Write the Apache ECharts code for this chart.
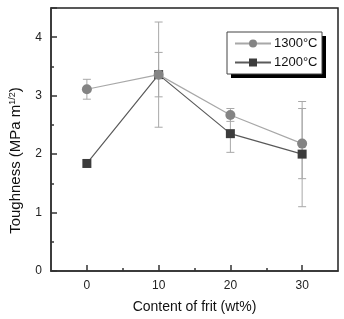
<!DOCTYPE html>
<html><head><meta charset="utf-8">
<script src="https://cdn.jsdelivr.net/npm/echarts@6/dist/echarts.min.js"></script>
<style>html,body{margin:0;padding:0;background:#fff}#c{width:344px;height:319px}</style>
</head><body><div id="c"></div>
<script>
var fritContent = [0, 10, 20, 30];
var tough1300 = [3.11, 3.36, 2.67, 2.18];
var err1300 = [0.17, 0.38, 0.11, 0.6];
var tough1200 = [1.84, 3.36, 2.35, 2.0];
var err1200 = [0.06, 0.9, 0.32, 0.9];
var xTicks = [0, 10, 20, 30];
var xMinorTicks = [5, 15, 25];

function pairs(xs, ys){ return xs.map(function(x,i){return [x, ys[i]];}); }
function errData(xs, ys, es){ return xs.map(function(x,i){return [x, ys[i]-es[i], ys[i]+es[i]];}); }

function errRender(params, api){
  var x = api.value(0);
  var lo = api.coord([x, api.value(1)]);
  var hi = api.coord([x, api.value(2)]);
  var w = 4;
  var st = {stroke:'#a8a8a8', lineWidth:1};
  return {type:'group', children:[
    {type:'line', shape:{x1:lo[0],y1:lo[1],x2:hi[0],y2:hi[1]}, style:st},
    {type:'line', shape:{x1:lo[0]-w,y1:lo[1],x2:lo[0]+w,y2:lo[1]}, style:st},
    {type:'line', shape:{x1:hi[0]-w,y1:hi[1],x2:hi[0]+w,y2:hi[1]}, style:st}
  ]};
}

var chart = echarts.init(document.getElementById('c'), null, {renderer:'canvas'});
var font = 'Liberation Sans, Arial, sans-serif';
chart.setOption({
  animation:false,
  textStyle:{fontFamily:font},
  grid:{left:44, top:8, right:6, bottom:42, show:true, borderColor:'#222', borderWidth:1.5, backgroundColor:'transparent'},
  graphic:{elements:[
    {type:'rect', id:'legShadow', shape:{x:231, y:36, width:95, height:42}, style:{fill:'#000'}, z:50},
    {type:'rect', id:'legBox', shape:{x:227, y:32, width:95, height:42}, style:{fill:'#fff', stroke:'#444', lineWidth:1}, z:51}
  ]},
  legend:{
    orient:'vertical', left:234, top:37, z:60,
    padding:0, itemGap:6, itemWidth:36, itemHeight:10,
    textStyle:{fontSize:13, color:'#111', fontFamily:font, padding:[0,0,0,-2]},
    data:['1300\u00B0C','1200\u00B0C']
  },
  xAxis:[{
    type:'value', min:-5, max:35, interval:5,
    name:'Content of frit (wt%)', nameLocation:'middle', nameGap:29,
    nameTextStyle:{fontSize:14, color:'#111'},
    axisLine:{onZero:false, lineStyle:{color:'#333', width:1.5}},
    axisTick:{inside:true, length:6, customValues:xTicks, lineStyle:{color:'#333', width:1.5}},
    axisLabel:{customValues:xTicks, fontSize:12, color:'#222', margin:9},
    splitLine:{show:false}
  },{
    type:'value', min:-5, max:35, interval:5, position:'bottom',
    axisLine:{show:false, onZero:false},
    axisTick:{inside:true, length:3, customValues:xMinorTicks, lineStyle:{color:'#333', width:1.5}},
    axisLabel:{show:false}, splitLine:{show:false}
  }],
  yAxis:{
    type:'value', min:0, max:4.5, interval:1,
    name:'{a|Toughness (MPa m}{b|1/2}{a|)}', nameLocation:'middle', nameGap:27,
    nameTextStyle:{padding:[0,42,0,0], rich:{a:{fontSize:15, color:'#111', fontFamily:font}, b:{fontSize:9, color:'#111', verticalAlign:'top', fontFamily:font, padding:[0,0,7,0]}}},
    axisLine:{onZero:false, lineStyle:{color:'#333', width:1.5}},
    axisTick:{inside:true, length:6, lineStyle:{color:'#333', width:1.5}},
    minorTick:{show:true, splitNumber:2, length:3, lineStyle:{color:'#333', width:1.5}},
    axisLabel:{fontSize:12, color:'#222', margin:9, showMaxLabel:false},
    splitLine:{show:false}
  },
  series:[
    {type:'custom', renderItem:errRender, data:errData(fritContent,tough1300,err1300), z:1, silent:true},
    {type:'custom', renderItem:errRender, data:errData(fritContent,tough1200,err1200), z:1, silent:true},
    {name:'1300\u00B0C', type:'line', data:pairs(fritContent,tough1300), symbol:'circle', symbolSize:10,
      itemStyle:{color:'#848484'}, lineStyle:{color:'#a8a8a8', width:1.2}, z:3},
    {name:'1200\u00B0C', type:'line', data:pairs(fritContent,tough1200), symbol:'rect', symbolSize:9,
      itemStyle:{color:'#3c3c3c'}, lineStyle:{color:'#5a5a5a', width:1.2}, z:2}
  ]
});
</script></body></html>
